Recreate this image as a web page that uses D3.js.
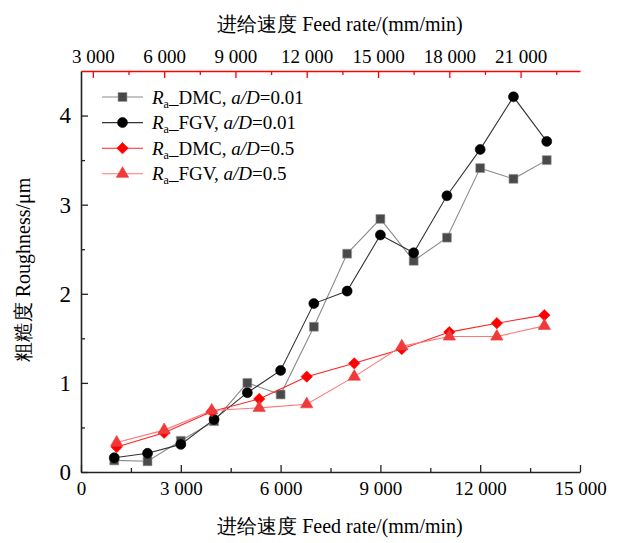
<!DOCTYPE html>
<html>
<head>
<meta charset="utf-8">
<script src="https://cdn.jsdelivr.net/npm/d3@7"></script>
<style>
body { margin: 0; background: #fff; }
svg text { font-family: "Liberation Serif", "DejaVu Serif", serif; fill: #000; }
</style>
</head>
<body>
<script>
// feed rates (bottom axis, a/D=0.01) and (top axis, a/D=0.5)
var feedLow = [1000, 2000, 3000, 4000, 5000, 6000, 7000, 8000, 9000, 10000, 11000, 12000, 13000, 14000];
var feedHigh = [4000, 6000, 8000, 10000, 12000, 14000, 16000, 18000, 20000, 22000];

var dmc001 = [0.13, 0.12, 0.35, 0.57, 1.00, 0.87, 1.63, 2.45, 2.84, 2.37, 2.63, 3.41, 3.29, 3.50];
var fgv001 = [0.16, 0.21, 0.31, 0.59, 0.89, 1.14, 1.89, 2.03, 2.66, 2.46, 3.10, 3.62, 4.21, 3.71];
var dmc05 = [0.28, 0.44, 0.68, 0.82, 1.07, 1.22, 1.38, 1.57, 1.67, 1.76];
var fgv05 = [0.33, 0.47, 0.69, 0.72, 0.76, 1.07, 1.41, 1.52, 1.52, 1.64];

var bottomTicks = [0, 3000, 6000, 9000, 12000, 15000];
var topTicks = [3000, 6000, 9000, 12000, 15000, 18000, 21000];
var yTicks = [0, 1, 2, 3, 4];

var serif = "Liberation Serif, DejaVu Serif, serif";

var svg = d3.select("body").append("svg")
	.attr("width", 617)
	.attr("height", 543)
	.attr("font-family", serif);

var x = d3.scaleLinear().domain([0, 15000]).range([81, 580]);
var xTop = d3.scaleLinear().domain([2500, 23500]).range([81, 580]);
var y = d3.scaleLinear().domain([0, 4.5]).range([472, 71]);

var fmt = function (d) { return d === 0 ? "0" : d3.format(",")(d).replace(",", " "); };

// minor ticks first
svg.append("g").attr("transform", "translate(0,472)")
	.call(d3.axisBottom(x).tickValues(d3.range(1500, 15000, 3000)).tickSize(-4).tickSizeOuter(0).tickFormat(""))
	.call(g => g.select(".domain").remove())
	.selectAll("line").attr("stroke", "#222").attr("stroke-width", 1.3);
svg.append("g").attr("transform", "translate(0,71)")
	.call(d3.axisTop(xTop).tickValues(d3.range(4500, 23500, 3000)).tickSize(-4).tickSizeOuter(0).tickFormat(""))
	.call(g => g.select(".domain").remove())
	.selectAll("line").attr("stroke", "#f00").attr("stroke-width", 1.3);
svg.append("g").attr("transform", "translate(81,0)")
	.call(d3.axisLeft(y).tickValues([0.5, 1.5, 2.5, 3.5]).tickSize(-4).tickSizeOuter(0).tickFormat(""))
	.call(g => g.select(".domain").remove())
	.selectAll("line").attr("stroke", "#222").attr("stroke-width", 1.3);

// bottom axis
var gx = svg.append("g").attr("transform", "translate(0,472)")
	.call(d3.axisBottom(x).tickValues(bottomTicks).tickSize(-7).tickSizeOuter(0).tickPadding(10).tickFormat(fmt))
	.attr("font-family", serif);
gx.selectAll("text").style("font-size", "19px");
gx.select(".domain").attr("stroke", "#222").attr("stroke-width", 1.6);
gx.selectAll(".tick line").attr("stroke", "#222").attr("stroke-width", 1.3);

// top axis (red)
var gt = svg.append("g").attr("transform", "translate(0,71)")
	.call(d3.axisTop(xTop).tickValues(topTicks).tickSize(-7).tickSizeOuter(0).tickPadding(8).tickFormat(fmt))
	.attr("font-family", serif);
gt.selectAll("text").style("font-size", "19px");
gt.select(".domain").attr("stroke", "#f00").attr("stroke-width", 1.4);
gt.selectAll(".tick line").attr("stroke", "#f00").attr("stroke-width", 1.3);

// left axis
var gy = svg.append("g").attr("transform", "translate(81,0)")
	.call(d3.axisLeft(y).tickValues(yTicks).tickSize(-7).tickSizeOuter(0).tickPadding(10).tickFormat(d3.format("d")))
	.attr("font-family", serif);
gy.selectAll("text").style("font-size", "23px");
gy.select(".domain").attr("stroke", "#222").attr("stroke-width", 1.6);
gy.selectAll(".tick line").attr("stroke", "#222").attr("stroke-width", 1.3);

// titles
svg.append("text").attr("x", 340).attr("y", 31).attr("text-anchor", "middle")
	.style("font-size", "20px").text("进给速度 Feed rate/(mm/min)");
svg.append("text").attr("x", 340).attr("y", 533).attr("text-anchor", "middle")
	.style("font-size", "20px").text("进给速度 Feed rate/(mm/min)");
svg.append("text").attr("transform", "translate(30,270) rotate(-90)").attr("text-anchor", "middle")
	.style("font-size", "20px").text("粗糙度 Roughness/μm");

// diamond drawn as a square turned 45 degrees (rot)
var series = [
	{ xs: feedLow, sx: x, ys: dmc001, line: "#8a8a8a", fill: "#4a4a4a", stroke: "#9a9a9a", sym: d3.symbolSquare, size: 80, rot: 0, name: "DMC", ad: "0.01" },
	{ xs: feedLow, sx: x, ys: fgv001, line: "#333", fill: "#000", stroke: "#000", sym: d3.symbolCircle, size: 78, rot: 0, name: "FGV", ad: "0.01" },
	{ xs: feedHigh, sx: xTop, ys: dmc05, line: "#f22", fill: "#f00", stroke: "#f00", sym: d3.symbolSquare, size: 64, rot: 45, name: "DMC", ad: "0.5" },
	{ xs: feedHigh, sx: xTop, ys: fgv05, line: "#f77", fill: "#f03a3a", stroke: "#f03a3a", sym: d3.symbolTriangle, size: 66, rot: 0, name: "FGV", ad: "0.5" }
];

series.forEach(function (s) {
	var pts = s.xs.map(function (v, i) { return [s.sx(v), y(s.ys[i])]; });
	svg.append("path")
		.attr("d", d3.line()(pts))
		.attr("fill", "none")
		.attr("stroke", s.line)
		.attr("stroke-width", 1.1);
	svg.selectAll(null).data(pts).enter().append("path")
		.attr("transform", function (p) { return "translate(" + p[0] + "," + p[1] + ") rotate(" + s.rot + ")"; })
		.attr("d", d3.symbol().type(s.sym).size(s.size))
		.attr("fill", s.fill)
		.attr("stroke", s.stroke)
		.attr("stroke-width", 0.6);
});

// legend
var legend = svg.append("g");
series.forEach(function (s, i) {
	var ly = 97 + i * 25.6;
	legend.append("line").attr("x1", 102).attr("x2", 143).attr("y1", ly).attr("y2", ly)
		.attr("stroke", s.line).attr("stroke-width", 1.1);
	legend.append("path")
		.attr("transform", "translate(122.5," + ly + ") rotate(" + s.rot + ")")
		.attr("d", d3.symbol().type(s.sym).size(s.size))
		.attr("fill", s.fill).attr("stroke", s.stroke).attr("stroke-width", 0.6);
	var t = legend.append("text").attr("x", 152).attr("y", ly + 6.5).style("font-size", "19px");
	t.append("tspan").style("font-style", "italic").text("R");
	t.append("tspan").attr("dy", 4).style("font-size", "12px").text("a");
	t.append("tspan").attr("dy", -4).text("_" + s.name + ", ");
	t.append("tspan").style("font-style", "italic").text("a/D");
	t.append("tspan").text("=" + s.ad);
});
</script>
</body>
</html>
